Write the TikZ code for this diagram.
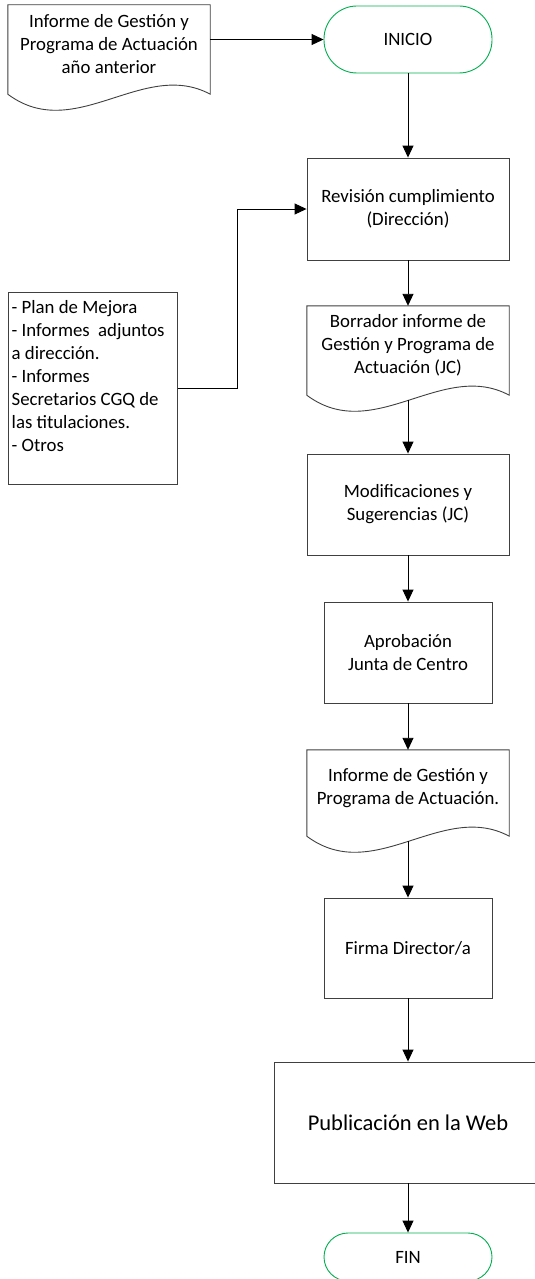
\documentclass[tikz,border=0pt]{standalone}
\usepackage{fontspec}
\setmainfont{Carlito}
\usetikzlibrary{arrows.meta,calc}
\definecolor{verdeterm}{RGB}{0,176,80}
\definecolor{borde}{RGB}{64,64,64}
% document outline with wavy bottom, #1 = node name
\newcommand{\docborde}[1]{%
  \draw[borde,line width=0.9pt] (#1.south west) -- (#1.north west) -- (#1.north east)
    -- ($(#1.south east)+(0,10)$)
    .. controls +(-67,-36) and +(67,50) .. ($(#1.south west)+(0,10)$)
    coordinate[pos=0.5] (#1-w) -- (#1.south west);}

\begin{document}
\begin{tikzpicture}[x=1pt,y=-1pt,
  every node/.style={font=\fontsize{18.8}{23}\selectfont,inner sep=0pt,align=center},
  caja/.style={draw=borde,line width=0.9pt,rectangle},
  term/.style={draw=verdeterm,line width=0.9pt,rectangle,minimum width=168,rounded corners=33pt},
  docu/.style={rectangle,minimum width=202},
  flecha/.style={draw=black,line width=0.9pt,-{Triangle[length=12pt,width=11pt]}}]
  \fill[white] (0,0) rectangle (535,1279);
  \useasboundingbox (0,0) rectangle (535,1279);
  % terminals
  \draw (408,39.5) node[term,minimum height=67] (inicio) {INICIO};
  \draw (408,1257) node[term,minimum height=48,rounded corners=24pt] (fin) {FIN};
  % documents
  \draw (109,44.5) node[docu,minimum height=79] (previo) {Informe de Gestión y\\Programa de Actuación\\año anterior};
  \draw (408,345.5) node[docu,minimum height=79] (borrador) {Borrador informe de\\Gestión y Programa de\\Actuación (JC)};
  \draw (408,788) node[docu,minimum height=76] (informe) {Informe de Gestión y\\Programa de Actuación.};
  \docborde{previo}
  \docborde{borrador}
  \docborde{informe}
  % process boxes
  \draw (408,209) node[caja,minimum width=202,minimum height=102] (revision) {Revisión cumplimiento\\(Dirección)};
  \draw (408,504.5) node[caja,minimum width=202,minimum height=101] (modif) {Modificaciones y\\Sugerencias (JC)};
  \draw (408,652.5) node[caja,minimum width=168,minimum height=101] (aprob) {Aprobación\\Junta de Centro};
  \draw (408,948) node[caja,minimum width=168,minimum height=100] (firma) {Firma Director/a};
  \draw (408,1122.5) node[caja,minimum width=268,minimum height=121,font=\fontsize{22.5}{27}\selectfont] (publica) {Publicación en la Web};
  % inputs list
  \draw (8,292) node[caja,anchor=north west,minimum width=169,minimum height=192] (lista) {};
  \draw (lista.north west) node[anchor=north west,align=left,inner xsep=3.5pt,inner ysep=8pt] (listatxt)
    {- Plan de Mejora\\- Informes\ \ adjuntos\\a dirección.\\- Informes\\Secretarios CGQ de\\las titulaciones.\\- Otros};
  %
  % flow
  \path
    (previo.east |- inicio.west) edge[flecha] (inicio.west)
    (inicio) edge[flecha] (revision)
    (revision) edge[flecha] (borrador)
    (modif.north |- borrador-w) edge[flecha] (modif)
    (modif) edge[flecha] (aprob)
    (aprob) edge[flecha] (informe)
    (firma.north |- informe-w) edge[flecha] (firma)
    (firma) edge[flecha] (publica)
    (publica) edge[flecha] (fin);
  \draw[flecha] (lista.east) -- ++(60,0) |- (revision.west);
\end{tikzpicture}
\end{document}
